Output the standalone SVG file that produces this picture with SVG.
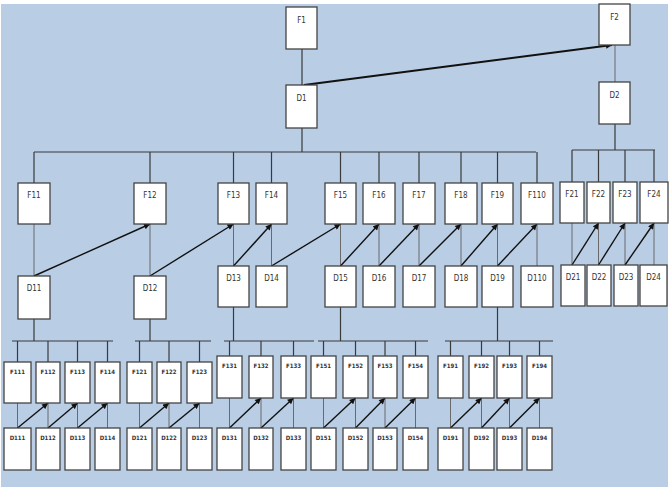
<svg xmlns="http://www.w3.org/2000/svg" width="670" height="487" viewBox="0 0 670 487">
<defs>
<marker id="ah" viewBox="0 0 10 10" refX="10" refY="5" markerWidth="7" markerHeight="6" markerUnits="userSpaceOnUse" orient="auto"><path d="M0,0 L10,5 L0,10 z" fill="#111"/></marker>
<style>
.bx{fill:#fff;stroke:#444;stroke-width:1.3}
.t{font-family:"DejaVu Sans Condensed","Liberation Sans",sans-serif;font-stretch:condensed;font-size:8px;fill:#333;text-anchor:middle}
.ts{font-family:"DejaVu Sans Condensed","Liberation Sans",sans-serif;font-stretch:condensed;font-size:6px;fill:#333;text-anchor:middle;font-weight:bold}
.ln{stroke:#3a3a3a;stroke-width:1.2;fill:none}
.lt{stroke:#6a6a6a;stroke-width:1;fill:none}
.ar{stroke:#111;stroke-width:1.4;fill:none;marker-end:url(#ah)}
.arb{stroke:#111;stroke-width:2;fill:none;marker-end:url(#ah)}
</style>
</defs>
<rect x="0" y="0" width="670" height="487" fill="#fff"/>
<rect x="1" y="4" width="667" height="483" fill="#b9cde5"/>
<g id="connectors">
<!-- top -->
<path class="ln" d="M302,49 V85 M302,128 V152 M34,152 H536 M34,152 V183 M150,152 V183 M233.5,152 V183 M271.5,152 V183 M340.5,152 V183 M379,152 V183 M419,152 V183 M461,152 V183 M497.5,152 V183 M537,152 V183"/>
<path class="lt" d="M615,45 V82"/>
<path class="ln" d="M615,124 V150 M572,150 H655 M572,150 V182 M598.5,150 V182 M625,150 V182 M654,150 V182"/>
<path class="arb" d="M304,85 L612,45"/>
<!-- F to D thin -->
<path class="lt" d="M34,224 V276 M150,224 V276 M233.5,224 V266 M271.5,224 V266 M340.5,224 V266 M379,224 V266 M419,224 V266 M461,224 V266 M497.5,224 V266 M537,224 V266 M572,223 V265 M598.5,223 V265 M625,223 V265 M654,223 V265"/>
<!-- level 2 arrows -->
<path class="ar" d="M34,276 L150,224"/>
<path class="ar" d="M150,276 L233.5,224"/>
<path class="ar" d="M233.5,266 L271.5,224"/>
<path class="ar" d="M271.5,266 L340.5,224"/>
<path class="ar" d="M340.5,266 L379,224"/>
<path class="ar" d="M379,266 L419,224"/>
<path class="ar" d="M419,266 L461,224"/>
<path class="ar" d="M461,266 L497.5,224"/>
<path class="ar" d="M497.5,266 L537,224"/>
<path class="ar" d="M572,265 L598.5,223"/>
<path class="ar" d="M598.5,265 L625,223"/>
<path class="ar" d="M625,265 L654,223"/>
<!-- group buses -->
<path class="ln" d="M34,319 V341 M12,341 H113 M17.5,341 V362 M48,341 V362 M77.5,341 V362 M107.5,341 V362"/>
<path class="ln" d="M150,319 V341 M135,341 H211 M139.5,341 V362 M169,341 V362 M199.5,341 V362"/>
<path class="ln" d="M233.5,307 V341 M224,341 H314 M229.5,341 V356 M261,341 V356 M293.5,341 V356"/>
<path class="ln" d="M340.5,307 V341 M318,341 H428 M323.5,341 V356 M355.5,341 V356 M385,341 V356 M415.5,341 V356"/>
<path class="ln" d="M497.5,307 V341 M445,341 H553 M450.5,341 V356 M481.5,341 V356 M509.5,341 V356 M539.5,341 V356"/>
<!-- bottom F to D thin -->
<path class="lt" d="M17.5,403 V428 M48,403 V428 M77.5,403 V428 M107.5,403 V428 M139.5,403 V428 M169,403 V428 M199.5,403 V428"/>
<path class="lt" d="M229.5,398 V428 M261,398 V428 M293.5,398 V428 M323.5,398 V428 M355.5,398 V428 M385,398 V428 M415.5,398 V428 M450.5,398 V428 M481.5,398 V428 M509.5,398 V428 M539.5,398 V428"/>
<!-- bottom arrows -->
<path class="ar" d="M17.5,428 L48,403"/>
<path class="ar" d="M48,428 L77.5,403"/>
<path class="ar" d="M77.5,428 L107.5,403"/>
<path class="ar" d="M139.5,428 L169,403"/>
<path class="ar" d="M169,428 L199.5,403"/>
<path class="ar" d="M229.5,428 L261,398"/>
<path class="ar" d="M261,428 L293.5,398"/>
<path class="ar" d="M323.5,428 L355.5,398"/>
<path class="ar" d="M355.5,428 L385,398"/>
<path class="ar" d="M385,428 L415.5,398"/>
<path class="ar" d="M450.5,428 L481.5,398"/>
<path class="ar" d="M481.5,428 L509.5,398"/>
<path class="ar" d="M509.5,428 L539.5,398"/>
</g>
<g id="F1"><rect class="bx" x="286" y="7" width="31" height="42"/><text class="t" x="301.5" y="23">F1</text></g>
<g id="D1"><rect class="bx" x="286" y="85" width="31" height="43"/><text class="t" x="301.5" y="101">D1</text></g>
<g id="F2"><rect class="bx" x="599" y="4" width="31" height="41"/><text class="t" x="614.5" y="20">F2</text></g>
<g id="D2"><rect class="bx" x="599" y="82" width="31" height="42"/><text class="t" x="614.5" y="98">D2</text></g>
<g id="F11"><rect class="bx" x="18" y="183" width="32" height="41"/><text class="t" x="34" y="198">F11</text></g>
<g id="F12"><rect class="bx" x="134" y="183" width="32" height="41"/><text class="t" x="150" y="198">F12</text></g>
<g id="F13"><rect class="bx" x="218" y="183" width="31" height="41"/><text class="t" x="233.5" y="198">F13</text></g>
<g id="F14"><rect class="bx" x="256" y="183" width="31" height="41"/><text class="t" x="271.5" y="198">F14</text></g>
<g id="F15"><rect class="bx" x="325" y="183" width="31" height="41"/><text class="t" x="340.5" y="198">F15</text></g>
<g id="F16"><rect class="bx" x="363" y="183" width="32" height="41"/><text class="t" x="379" y="198">F16</text></g>
<g id="F17"><rect class="bx" x="403" y="183" width="32" height="41"/><text class="t" x="419" y="198">F17</text></g>
<g id="F18"><rect class="bx" x="445" y="183" width="32" height="41"/><text class="t" x="461" y="198">F18</text></g>
<g id="F19"><rect class="bx" x="482" y="183" width="31" height="41"/><text class="t" x="497.5" y="198">F19</text></g>
<g id="F110"><rect class="bx" x="521" y="183" width="32" height="41"/><text class="t" x="537" y="198">F110</text></g>
<g id="F21"><rect class="bx" x="560" y="182" width="24" height="41"/><text class="t" x="572" y="197">F21</text></g>
<g id="F22"><rect class="bx" x="587" y="182" width="23" height="41"/><text class="t" x="598.5" y="197">F22</text></g>
<g id="F23"><rect class="bx" x="613" y="182" width="24" height="41"/><text class="t" x="625" y="197">F23</text></g>
<g id="F24"><rect class="bx" x="640" y="182" width="28" height="41"/><text class="t" x="654" y="197">F24</text></g>
<g id="D11"><rect class="bx" x="18" y="276" width="32" height="43"/><text class="t" x="34" y="291">D11</text></g>
<g id="D12"><rect class="bx" x="134" y="276" width="32" height="43"/><text class="t" x="150" y="291">D12</text></g>
<g id="D13"><rect class="bx" x="218" y="266" width="31" height="41"/><text class="t" x="233.5" y="281">D13</text></g>
<g id="D14"><rect class="bx" x="256" y="266" width="31" height="41"/><text class="t" x="271.5" y="281">D14</text></g>
<g id="D15"><rect class="bx" x="325" y="266" width="31" height="41"/><text class="t" x="340.5" y="281">D15</text></g>
<g id="D16"><rect class="bx" x="363" y="266" width="32" height="41"/><text class="t" x="379" y="281">D16</text></g>
<g id="D17"><rect class="bx" x="403" y="266" width="32" height="41"/><text class="t" x="419" y="281">D17</text></g>
<g id="D18"><rect class="bx" x="445" y="266" width="32" height="41"/><text class="t" x="461" y="281">D18</text></g>
<g id="D19"><rect class="bx" x="482" y="266" width="31" height="41"/><text class="t" x="497.5" y="281">D19</text></g>
<g id="D110"><rect class="bx" x="521" y="266" width="32" height="41"/><text class="t" x="537" y="281">D110</text></g>
<g id="D21"><rect class="bx" x="561" y="265" width="24" height="41"/><text class="t" x="573" y="280">D21</text></g>
<g id="D22"><rect class="bx" x="587" y="265" width="24" height="41"/><text class="t" x="599" y="280">D22</text></g>
<g id="D23"><rect class="bx" x="614" y="265" width="24" height="41"/><text class="t" x="626" y="280">D23</text></g>
<g id="D24"><rect class="bx" x="640" y="265" width="27" height="41"/><text class="t" x="653.5" y="280">D24</text></g>
<g id="F111"><rect class="bx" x="4" y="362" width="27" height="41"/><text class="ts" x="17.5" y="374">F111</text></g>
<g id="F112"><rect class="bx" x="36" y="362" width="24" height="41"/><text class="ts" x="48" y="374">F112</text></g>
<g id="F113"><rect class="bx" x="65" y="362" width="25" height="41"/><text class="ts" x="77.5" y="374">F113</text></g>
<g id="F114"><rect class="bx" x="95" y="362" width="25" height="41"/><text class="ts" x="107.5" y="374">F114</text></g>
<g id="F121"><rect class="bx" x="127" y="362" width="25" height="41"/><text class="ts" x="139.5" y="374">F121</text></g>
<g id="F122"><rect class="bx" x="157" y="362" width="24" height="41"/><text class="ts" x="169" y="374">F122</text></g>
<g id="F123"><rect class="bx" x="187" y="362" width="25" height="41"/><text class="ts" x="199.5" y="374">F123</text></g>
<g id="F131"><rect class="bx" x="217" y="356" width="25" height="42"/><text class="ts" x="229.5" y="368">F131</text></g>
<g id="F132"><rect class="bx" x="249" y="356" width="24" height="42"/><text class="ts" x="261" y="368">F132</text></g>
<g id="F133"><rect class="bx" x="281" y="356" width="25" height="42"/><text class="ts" x="293.5" y="368">F133</text></g>
<g id="F151"><rect class="bx" x="311" y="356" width="25" height="42"/><text class="ts" x="323.5" y="368">F151</text></g>
<g id="F152"><rect class="bx" x="343" y="356" width="25" height="42"/><text class="ts" x="355.5" y="368">F152</text></g>
<g id="F153"><rect class="bx" x="373" y="356" width="24" height="42"/><text class="ts" x="385" y="368">F153</text></g>
<g id="F154"><rect class="bx" x="403" y="356" width="25" height="42"/><text class="ts" x="415.5" y="368">F154</text></g>
<g id="F191"><rect class="bx" x="438" y="356" width="25" height="42"/><text class="ts" x="450.5" y="368">F191</text></g>
<g id="F192"><rect class="bx" x="469" y="356" width="25" height="42"/><text class="ts" x="481.5" y="368">F192</text></g>
<g id="F193"><rect class="bx" x="497" y="356" width="25" height="42"/><text class="ts" x="509.5" y="368">F193</text></g>
<g id="F194"><rect class="bx" x="527" y="356" width="25" height="42"/><text class="ts" x="539.5" y="368">F194</text></g>
<g id="D111"><rect class="bx" x="4" y="428" width="27" height="42"/><text class="ts" x="17.5" y="440">D111</text></g>
<g id="D112"><rect class="bx" x="36" y="428" width="24" height="42"/><text class="ts" x="48" y="440">D112</text></g>
<g id="D113"><rect class="bx" x="65" y="428" width="25" height="42"/><text class="ts" x="77.5" y="440">D113</text></g>
<g id="D114"><rect class="bx" x="95" y="428" width="25" height="42"/><text class="ts" x="107.5" y="440">D114</text></g>
<g id="D121"><rect class="bx" x="127" y="428" width="25" height="42"/><text class="ts" x="139.5" y="440">D121</text></g>
<g id="D122"><rect class="bx" x="157" y="428" width="24" height="42"/><text class="ts" x="169" y="440">D122</text></g>
<g id="D123"><rect class="bx" x="187" y="428" width="25" height="42"/><text class="ts" x="199.5" y="440">D123</text></g>
<g id="D131"><rect class="bx" x="217" y="428" width="25" height="42"/><text class="ts" x="229.5" y="440">D131</text></g>
<g id="D132"><rect class="bx" x="249" y="428" width="24" height="42"/><text class="ts" x="261" y="440">D132</text></g>
<g id="D133"><rect class="bx" x="281" y="428" width="25" height="42"/><text class="ts" x="293.5" y="440">D133</text></g>
<g id="D151"><rect class="bx" x="311" y="428" width="25" height="42"/><text class="ts" x="323.5" y="440">D151</text></g>
<g id="D152"><rect class="bx" x="343" y="428" width="25" height="42"/><text class="ts" x="355.5" y="440">D152</text></g>
<g id="D153"><rect class="bx" x="373" y="428" width="24" height="42"/><text class="ts" x="385" y="440">D153</text></g>
<g id="D154"><rect class="bx" x="403" y="428" width="25" height="42"/><text class="ts" x="415.5" y="440">D154</text></g>
<g id="D191"><rect class="bx" x="438" y="428" width="25" height="42"/><text class="ts" x="450.5" y="440">D191</text></g>
<g id="D192"><rect class="bx" x="469" y="428" width="25" height="42"/><text class="ts" x="481.5" y="440">D192</text></g>
<g id="D193"><rect class="bx" x="497" y="428" width="25" height="42"/><text class="ts" x="509.5" y="440">D193</text></g>
<g id="D194"><rect class="bx" x="527" y="428" width="25" height="42"/><text class="ts" x="539.5" y="440">D194</text></g>
</svg>
